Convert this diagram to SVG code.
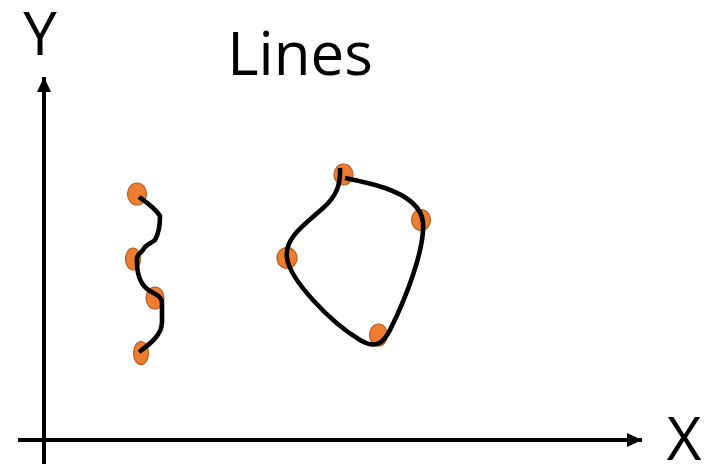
<svg xmlns="http://www.w3.org/2000/svg" width="715" height="464" viewBox="0 0 715 464">
  <style>
    .label { font-family: "Open Sans", "Noto Sans", sans-serif; font-size: 60px; fill: #000; }
    .axis { stroke: #000; stroke-width: 4; fill: none; }
    .curve { stroke: #000; stroke-width: 4.6; fill: none; stroke-linecap: butt; stroke-linejoin: round; }
    .pt { fill: #ED7D31; stroke: #B85F22; stroke-width: 1.2; }
  </style>
  <defs>
    <marker id="arrow" viewBox="0 0 15 14" refX="15" refY="7" markerWidth="15" markerHeight="14" markerUnits="userSpaceOnUse" orient="auto">
      <path d="M0,0 L15,7 L0,14 Z" fill="#000"/>
    </marker>
  </defs>

  <rect width="715" height="464" fill="#fff"/>

  <!-- axes -->
  <g id="axes">
    <line class="axis" x1="44" y1="464" x2="44" y2="77" marker-end="url(#arrow)"/>
    <line class="axis" x1="18" y1="440" x2="642" y2="440" marker-end="url(#arrow)"/>
  </g>

  <!-- labels -->
  <g id="labels">
    <text class="label" x="40" y="55" text-anchor="middle">Y</text>
    <text class="label" x="684" y="460" text-anchor="middle">X</text>
    <text class="label" x="300" y="75" text-anchor="middle">Lines</text>
  </g>

  <!-- control points, left stroke -->
  <g id="points-left">
    <ellipse class="pt" cx="137" cy="194" rx="9.5" ry="11"/>
    <ellipse class="pt" cx="133" cy="259" rx="7.5" ry="11"/>
    <ellipse class="pt" cx="155" cy="298" rx="9" ry="11"/>
    <ellipse class="pt" cx="141" cy="353" rx="7.5" ry="11.5"/>
  </g>

  <!-- control points, closed stroke -->
  <g id="points-right">
    <ellipse class="pt" cx="343.5" cy="174.5" rx="9.5" ry="10.5"/>
    <ellipse class="pt" cx="421" cy="220" rx="9.5" ry="10.5"/>
    <ellipse class="pt" cx="287" cy="258" rx="10" ry="10.5"/>
    <ellipse class="pt" cx="378.5" cy="335" rx="9" ry="11"/>
  </g>

  <!-- freehand lines -->
  <g id="connectors">
    <path class="curve" d="M139 197 C146 202,155 208,160 216 C160 225,159 233,155 240 C150 244,145 245,143 250 C139 254,136 256,137 262 C137 275,140 285,150 291 C157 295,162 297,162 303 L162 322 C162 335,150 344,139 352"/>
    <path class="curve" d="M340 168 C341 185,336 197,322 209 C305 224,284 238,287 258 C290 280,330 322,360 340 C375 349,383 344,390 330 C405 300,425 250,423 222 C421 205,405 195,385 188 C370 183,355 180,345 178"/>
  </g>
</svg>
